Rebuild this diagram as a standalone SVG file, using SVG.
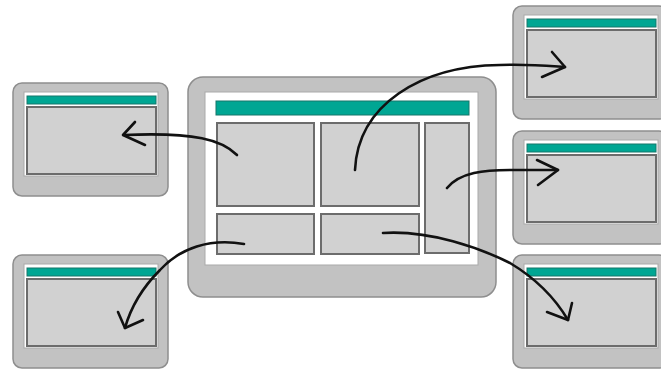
<svg xmlns="http://www.w3.org/2000/svg" width="661" height="372" viewBox="0 0 661 372">
<defs>
<style>
.frame{fill:#c2c2c2;stroke:#8e8e8e;stroke-width:1.5}
.screen{fill:#ffffff;stroke:#a9a9a9;stroke-width:1}
.bar{fill:#00a693;stroke:#16766a;stroke-width:1}
.pane{fill:#d1d1d1;stroke:#6c6c6c;stroke-width:2}
.arrow{fill:none;stroke:#111111;stroke-width:2.6;stroke-linecap:round;stroke-linejoin:round}
</style>
<g id="win">
<rect class="frame" x="0" y="0" width="155" height="113" rx="9"/>
<rect class="screen" x="11" y="9" width="134" height="84"/>
<rect class="bar" x="14" y="13" width="129" height="8"/>
<rect class="pane" x="14" y="24" width="129" height="67"/>
</g>
</defs>
<g id="main-window">
<rect class="frame" x="188" y="77" width="308" height="220" rx="15"/>
<rect class="screen" x="205" y="92" width="273" height="173"/>
<rect class="bar" x="216" y="101" width="253" height="14"/>
<rect class="pane" x="217" y="123" width="97" height="83"/>
<rect class="pane" x="321" y="123" width="98" height="83"/>
<rect class="pane" x="425" y="123" width="44" height="130"/>
<rect class="pane" x="217" y="214" width="97" height="40"/>
<rect class="pane" x="321" y="214" width="98" height="40"/>
</g>
<g id="window-left-top"><use href="#win" x="13" y="83"/></g>
<g id="window-left-bottom"><use href="#win" x="13" y="255"/></g>
<g id="window-right-top"><use href="#win" x="513" y="6"/></g>
<g id="window-right-middle"><use href="#win" x="513" y="131"/></g>
<g id="window-right-bottom"><use href="#win" x="513" y="255"/></g>
<g id="connectors">
<path class="arrow" d="M237,155 C222,140 196,132 124,135"/>
<path class="arrow" d="M135,122 L123,135 L145,145"/>
<path class="arrow" d="M355,170 C358,105 420,66 500,65 C530,64 550,66 565,67"/>
<path class="arrow" d="M552,52 L565,67 L542,77"/>
<path class="arrow" d="M447,188 C460,172 485,170 510,170 C530,170 545,170 558,170"/>
<path class="arrow" d="M537,160 L558,170 L538,185"/>
<path class="arrow" d="M244,244 C210,238 180,248 160,270 C140,290 130,310 125,328"/>
<path class="arrow" d="M118,312 L125,328 L143,320"/>
<path class="arrow" d="M383,233 C430,230 480,248 510,263 C535,278 555,298 568,320"/>
<path class="arrow" d="M547,312 L568,320 L572,303"/>
</g>
</svg>
